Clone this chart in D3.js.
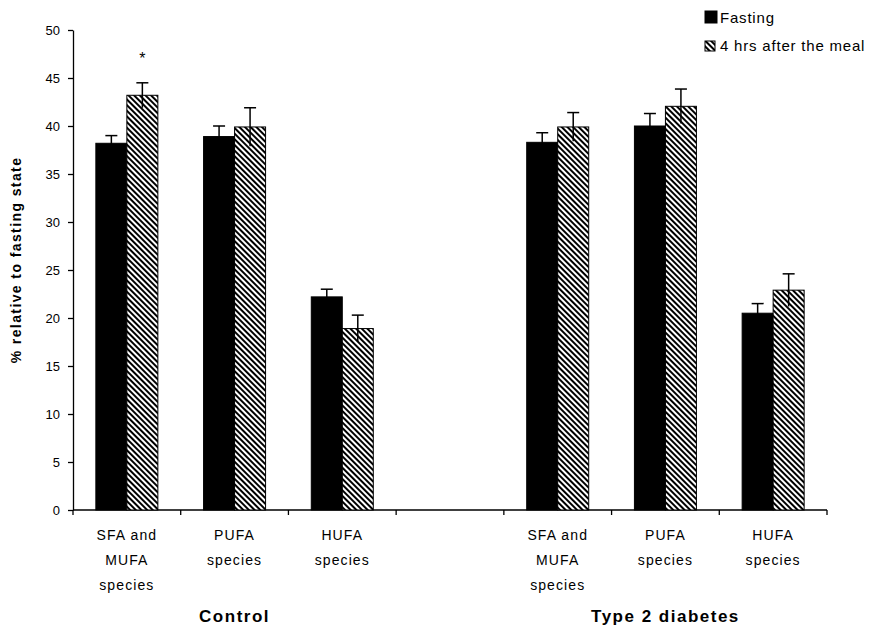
<!DOCTYPE html>
<html>
<head>
<meta charset="utf-8">
<script src="https://cdn.jsdelivr.net/npm/d3@7"></script>
<style>
  body { margin: 0; background: #fff; }
  svg { font-family: "Liberation Sans", Arial, sans-serif; }
</style>
</head>
<body>
<div id="chart"></div>
<script>
// Data
var categories = ["SFA and MUFA species", "PUFA species", "HUFA species", "", "SFA and MUFA species", "PUFA species", "HUFA species"];
var catLines = [["SFA and", "MUFA", "species"], ["PUFA", "species"], ["HUFA", "species"], [], ["SFA and", "MUFA", "species"], ["PUFA", "species"], ["HUFA", "species"]];
var fasting = [38.2, 38.9, 22.2, null, 38.3, 40.0, 20.5];
var fastingErr = [0.8, 1.1, 0.8, null, 1.0, 1.3, 1.0];
var afterMeal = [43.2, 39.9, 18.9, null, 39.9, 42.05, 22.9];
var afterMealErr = [1.3, 2.0, 1.4, null, 1.5, 1.8, 1.7];
var groups = ["Control", "Type 2 diabetes"];
var yTicks = [0, 5, 10, 15, 20, 25, 30, 35, 40, 45, 50];
var seriesNames = ["Fasting", "4 hrs after the meal"];

var svgWidth = 870;
var svgHeight = 628;
var margin = { top: 30, right: 43, bottom: 118, left: 73 };
var chartWidth = svgWidth - margin.left - margin.right;
var chartHeight = svgHeight - margin.top - margin.bottom;

var svg = d3.select("#chart").append("svg")
    .attr("width", svgWidth)
    .attr("height", svgHeight);

// hatch pattern for the after-meal bars
var defs = svg.append("defs");
defs.append("pattern")
    .attr("id", "hatch")
    .attr("patternUnits", "userSpaceOnUse")
    .attr("width", 4)
    .attr("height", 4)
    .attr("patternTransform", "rotate(-45)")
  .call(p => {
      p.append("rect").attr("width", 4).attr("height", 4).attr("fill", "#fff");
      p.append("rect").attr("width", 2).attr("height", 4).attr("fill", "#000");
  });

var chartGroup = svg.append("g")
    .attr("transform", `translate(${margin.left}, ${margin.top})`);

var xBand = d3.scaleBand()
    .domain(d3.range(categories.length))
    .range([0, chartWidth]);

var yLinearScale = d3.scaleLinear()
    .domain([0, 50])
    .range([chartHeight, 0]);

var barW = 31;

// Y axis
var yAxis = chartGroup.append("g")
    .call(d3.axisLeft(yLinearScale).tickValues(yTicks).tickSize(5).tickSizeOuter(0).tickPadding(8));
yAxis.select(".domain").attr("stroke", "#000").attr("stroke-width", 1.3);
yAxis.selectAll(".tick line").attr("stroke-width", 1.3);
yAxis.selectAll("text").attr("font-size", "13px").attr("fill", "#000");

// X axis (ticks at band boundaries)
var xAxisG = chartGroup.append("g")
    .attr("transform", `translate(0, ${chartHeight})`);
xAxisG.append("line")
    .attr("x1", 0).attr("x2", chartWidth)
    .attr("stroke", "#000").attr("stroke-width", 1.3);
xAxisG.selectAll(".xtick")
    .data(d3.range(categories.length + 1))
    .enter()
    .append("line")
    .attr("x1", i => i * xBand.step())
    .attr("x2", i => i * xBand.step())
    .attr("y1", 0).attr("y2", 5)
    .attr("stroke", "#000").attr("stroke-width", 1.3);

// category labels
catLines.forEach(function(lines, i) {
    var cx = xBand(i) + xBand.bandwidth() / 2;
    var t = xAxisG.append("text")
        .attr("text-anchor", "middle")
        .attr("font-size", "14px")
        .attr("letter-spacing", "1.1px")
        .attr("fill", "#000");
    lines.forEach(function(s, j) {
        t.append("tspan").attr("x", cx).attr("y", 30 + j * 25).text(s);
    });
});

// group labels
groups.forEach(function(g, k) {
    var cx = (xBand(k * 4) + xBand(k * 4 + 2) + xBand.bandwidth()) / 2;
    xAxisG.append("text")
        .attr("x", cx)
        .attr("y", 112)
        .attr("text-anchor", "middle")
        .attr("font-size", "17px")
        .attr("letter-spacing", "1.5px")
        .attr("font-weight", "bold")
        .text(g);
});

// y title
chartGroup.append("text")
    .attr("transform", `translate(${-52}, ${chartHeight / 2 - 10}) rotate(-90)`)
    .attr("text-anchor", "middle")
    .attr("font-size", "14px")
    .attr("letter-spacing", "1.4px")
    .attr("font-weight", "bold")
    .text("% relative to fasting state");

var idx = d3.range(categories.length).filter(i => fasting[i] != null);

// bars
function drawSeries(values, errs, offset, fill, cls) {
    chartGroup.selectAll("." + cls)
        .data(idx)
        .enter()
        .append("rect")
        .classed(cls, true)
        .attr("x", i => xBand(i) + xBand.bandwidth() / 2 + offset)
        .attr("y", i => yLinearScale(values[i]))
        .attr("width", barW)
        .attr("height", i => chartHeight - yLinearScale(values[i]))
        .attr("fill", fill)
        .attr("stroke", "#000")
        .attr("stroke-width", 1);

    var eg = chartGroup.selectAll("." + cls + "-err")
        .data(idx)
        .enter()
        .append("g")
        .classed(cls + "-err", true)
        .attr("transform", i => `translate(${xBand(i) + xBand.bandwidth() / 2 + offset + barW / 2}, 0)`);
    eg.append("line")
        .attr("y1", i => yLinearScale(values[i] - errs[i]))
        .attr("y2", i => yLinearScale(values[i] + errs[i]))
        .attr("stroke", "#000").attr("stroke-width", 1.5);
    eg.append("line")
        .attr("x1", -6).attr("x2", 6)
        .attr("y1", i => yLinearScale(values[i] + errs[i]))
        .attr("y2", i => yLinearScale(values[i] + errs[i]))
        .attr("stroke", "#000").attr("stroke-width", 1.5);
}

drawSeries(fasting, fastingErr, -barW, "#000", "barFast");
drawSeries(afterMeal, afterMealErr, 0, "url(#hatch)", "barMeal");

// significance asterisk
chartGroup.append("text")
    .attr("x", xBand(0) + xBand.bandwidth() / 2 + barW / 2)
    .attr("y", yLinearScale(afterMeal[0] + afterMealErr[0]) - 19)
    .attr("text-anchor", "middle")
    .attr("font-size", "16px")
    .text("*");

// legend
var legend = svg.append("g").attr("transform", "translate(705, -3)");
seriesNames.forEach(function(name, k) {
    var row = legend.append("g").attr("transform", `translate(0, ${k * 28})`);
    var s = k === 0 ? 12 : 10;
    row.append("rect")
        .attr("x", 0).attr("y", 26 - s)
        .attr("width", s).attr("height", s)
        .attr("fill", k === 0 ? "#000" : "url(#hatch)")
        .attr("stroke", "#000");
    row.append("text")
        .attr("x", 15).attr("y", 26)
        .attr("font-size", "15px")
        .attr("letter-spacing", "0.8px")
        .text(name);
});
</script>
</body>
</html>
